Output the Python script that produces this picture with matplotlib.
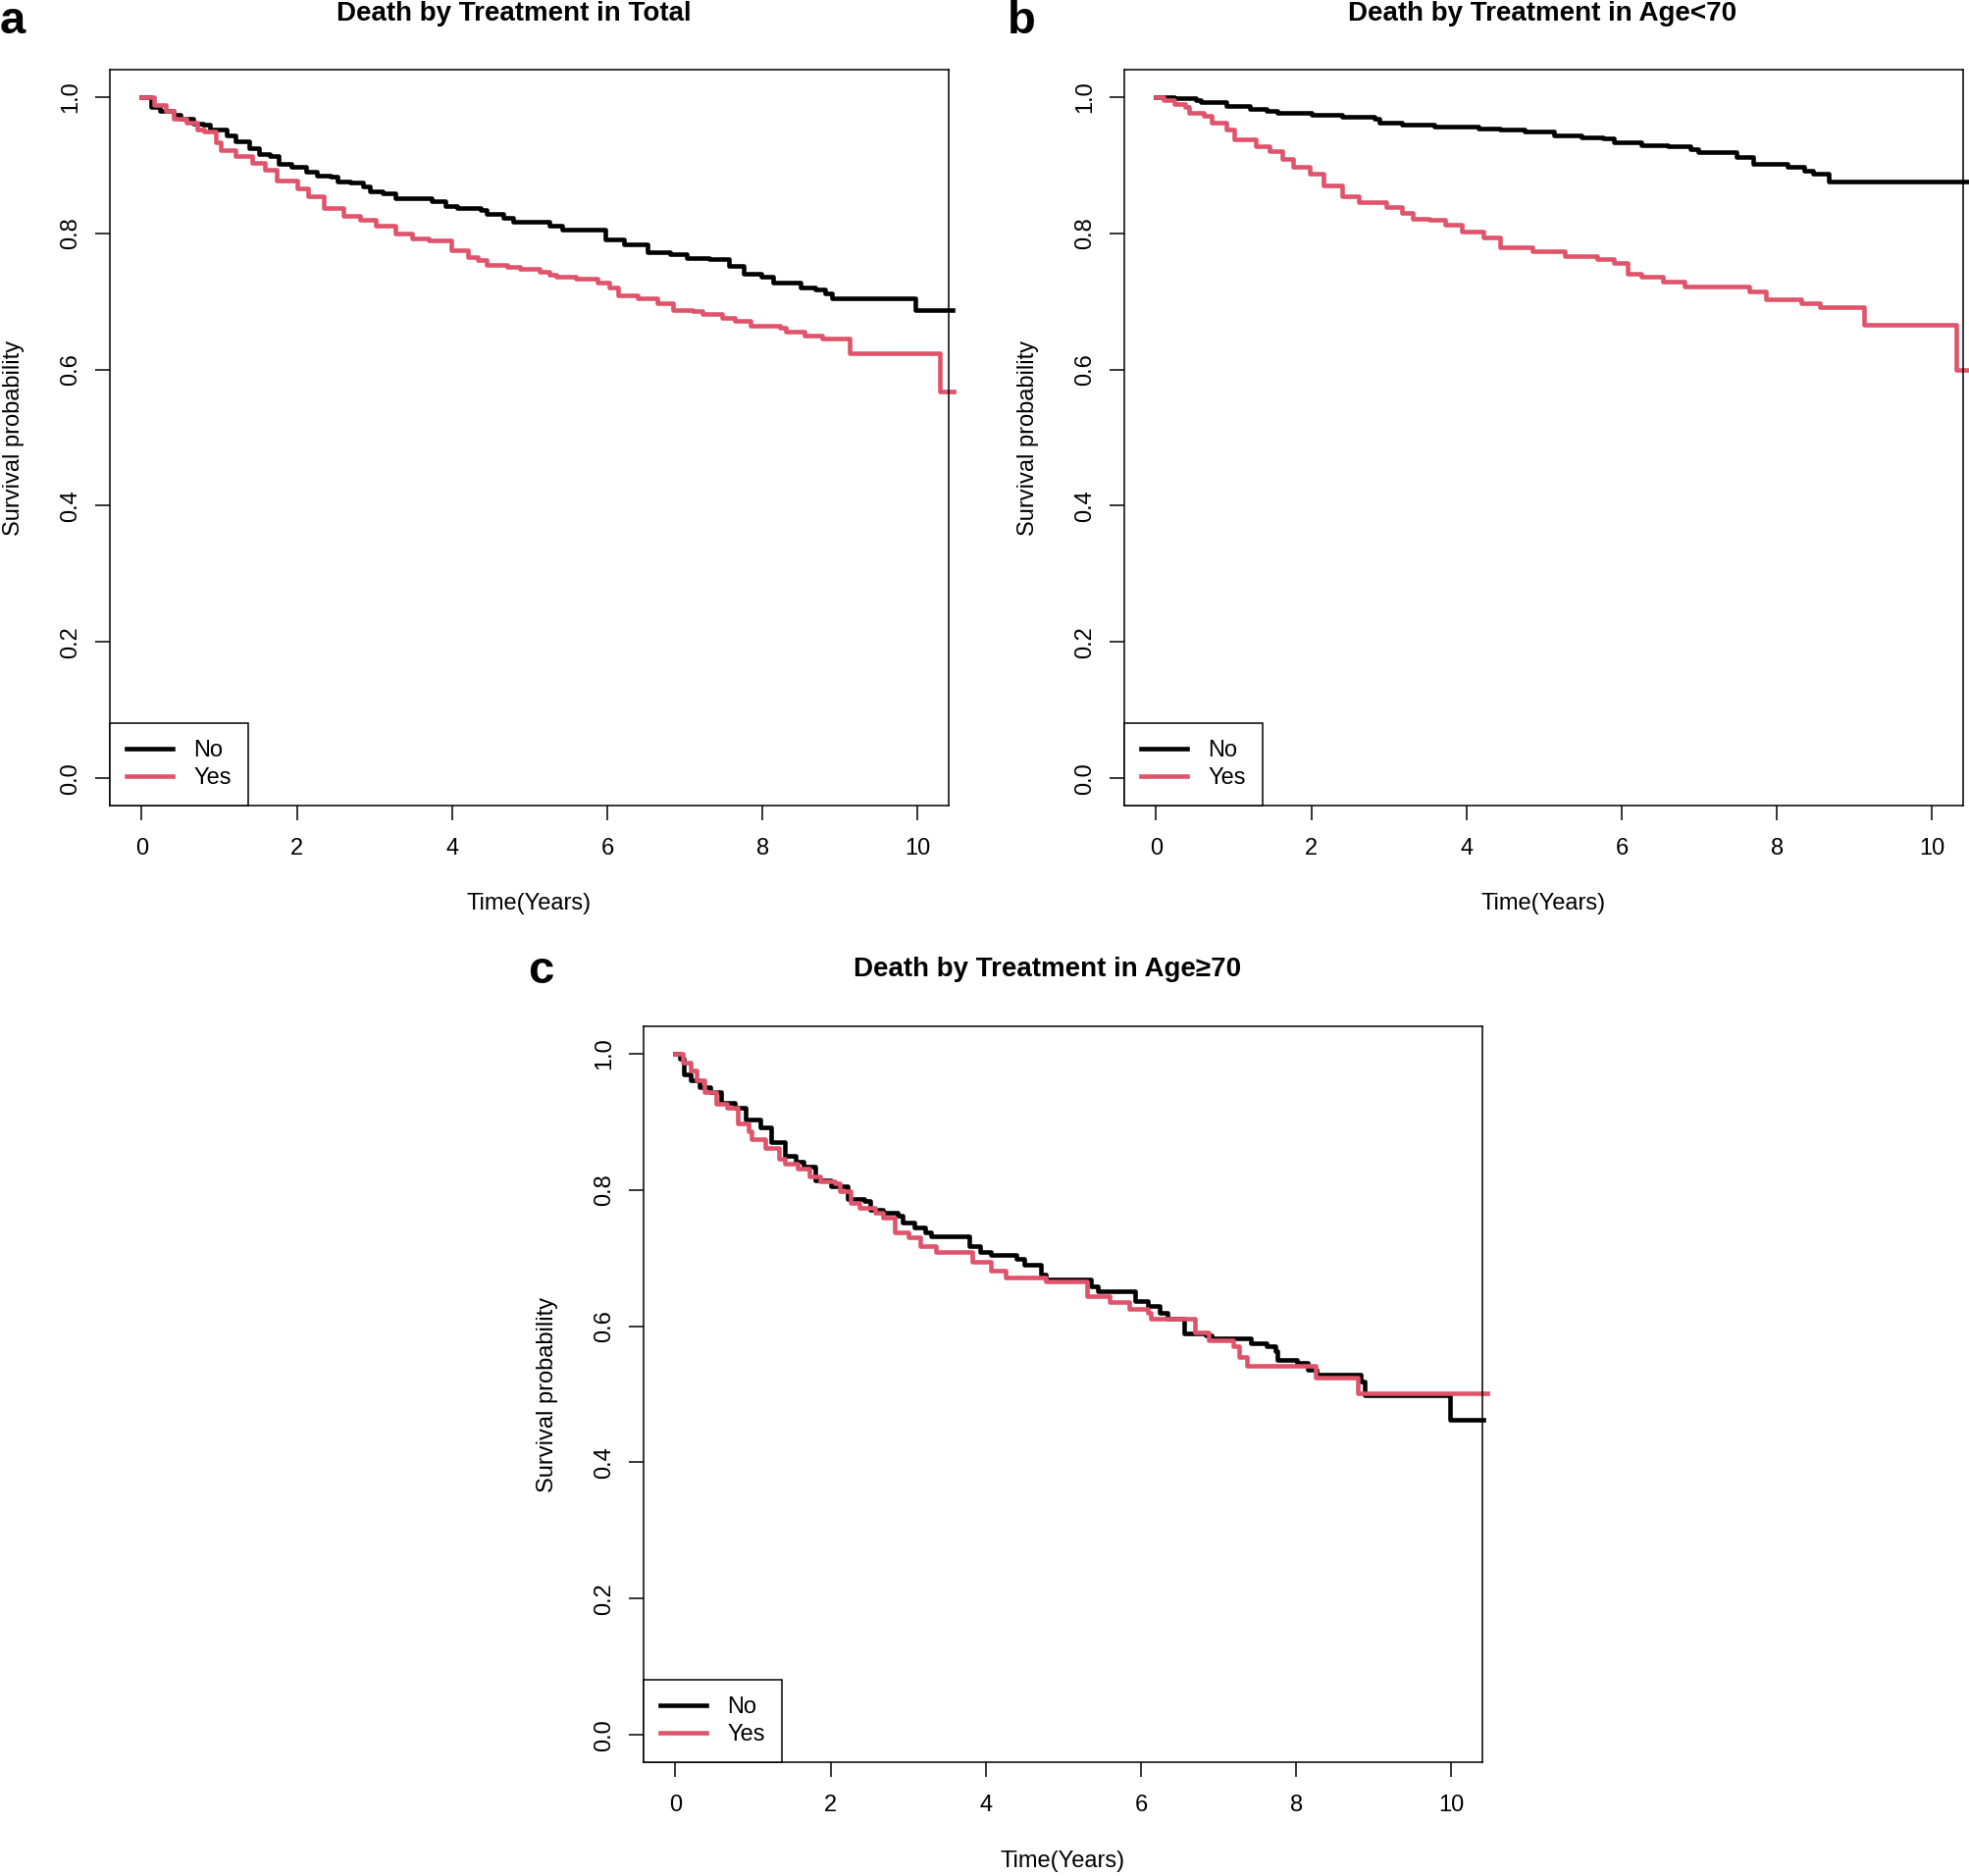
import matplotlib
matplotlib.use("Agg")
from matplotlib import pyplot as plt

plt.rcParams['font.family'] = ['Liberation Sans', 'DejaVu Sans']

BLACK = '#000000'
RED = '#DF536B'

# panel a - total
A_NO_T = [0, 0.12, 0.24, 0.41, 0.50, 0.67, 0.79, 0.88, 1.09, 1.21, 1.38, 1.51, 1.65, 1.76, 1.93,
          2.12, 2.26, 2.43, 2.52, 2.69, 2.85, 2.94, 3.11, 3.27, 3.74, 3.91, 4.07, 4.37, 4.45,
          4.66, 4.79, 5.25, 5.42, 5.97, 6.22, 6.52, 6.81, 7.02, 7.31, 7.57, 7.76, 7.99, 8.14,
          8.37, 8.49, 8.68, 8.81, 8.89, 9.97, 10.45]
A_NO_S = [1.0, 0.986, 0.979, 0.974, 0.968, 0.961, 0.959, 0.952, 0.943, 0.935, 0.925, 0.916, 0.913, 0.902, 0.898,
          0.890, 0.885, 0.883, 0.876, 0.874, 0.868, 0.861, 0.858, 0.852, 0.847, 0.840, 0.837, 0.834, 0.829,
          0.823, 0.817, 0.811, 0.806, 0.791, 0.784, 0.772, 0.770, 0.763, 0.762, 0.752, 0.740, 0.736, 0.728,
          0.727, 0.721, 0.717, 0.712, 0.704, 0.687, 0.687]
A_YES_T = [0, 0.16, 0.31, 0.41, 0.58, 0.71, 0.81, 0.96, 1.02, 1.21, 1.42, 1.59, 1.74, 2.01, 2.14,
           2.35, 2.60, 2.81, 3.02, 3.27, 3.48, 3.70, 3.99, 4.20, 4.33, 4.45, 4.71, 4.87, 5.13,
           5.25, 5.34, 5.59, 5.88, 6.03, 6.14, 6.39, 6.64, 6.85, 7.10, 7.23, 7.48, 7.65, 7.84,
           8.22, 8.30, 8.54, 8.77, 9.12, 10.28, 10.46]
A_YES_S = [1.0, 0.988, 0.979, 0.968, 0.962, 0.952, 0.950, 0.933, 0.922, 0.914, 0.903, 0.893, 0.878, 0.866, 0.854,
           0.837, 0.826, 0.820, 0.811, 0.799, 0.792, 0.789, 0.775, 0.765, 0.760, 0.753, 0.751, 0.747, 0.744,
           0.739, 0.736, 0.733, 0.728, 0.720, 0.709, 0.704, 0.698, 0.687, 0.686, 0.681, 0.675, 0.671, 0.664,
           0.661, 0.656, 0.650, 0.645, 0.624, 0.568, 0.568]

# panel b - age < 70
B_NO_T = [0, 0.23, 0.51, 0.58, 0.83, 0.90, 1.21, 1.42, 1.56, 2.0, 2.40, 2.82, 2.88, 3.17, 3.59,
          4.15, 4.43, 4.75, 5.13, 5.48, 5.76, 5.90, 6.25, 6.60, 6.88, 6.99, 7.48, 7.69, 8.14,
          8.35, 8.46, 8.67, 10.46]
B_NO_S = [1.0, 0.998, 0.995, 0.993, 0.992, 0.987, 0.983, 0.979, 0.977, 0.974, 0.971, 0.968, 0.962, 0.960, 0.956,
          0.954, 0.952, 0.949, 0.943, 0.941, 0.939, 0.933, 0.929, 0.927, 0.923, 0.919, 0.912, 0.902, 0.897,
          0.892, 0.887, 0.876, 0.876]
B_YES_T = [0, 0.09, 0.23, 0.37, 0.43, 0.62, 0.72, 0.90, 1.0, 1.28, 1.46, 1.63, 1.77, 1.98, 2.16,
           2.40, 2.61, 2.96, 3.17, 3.31, 3.52, 3.73, 3.94, 4.22, 4.43, 4.85, 5.27, 5.69, 5.90,
           6.08, 6.25, 6.53, 6.81, 7.65, 7.86, 8.32, 8.56, 9.12, 10.31, 10.46]
B_YES_S = [1.0, 0.995, 0.989, 0.986, 0.977, 0.973, 0.962, 0.952, 0.938, 0.927, 0.921, 0.909, 0.897, 0.887, 0.870,
           0.854, 0.845, 0.839, 0.830, 0.821, 0.819, 0.813, 0.802, 0.794, 0.780, 0.774, 0.766, 0.762, 0.757,
           0.741, 0.736, 0.729, 0.722, 0.714, 0.703, 0.698, 0.691, 0.665, 0.599, 0.599]

# panel c - age >= 70
C_NO_T = [0, 0.06, 0.11, 0.20, 0.31, 0.45, 0.59, 0.77, 0.91, 1.09, 1.23, 1.41, 1.55, 1.65, 1.80,
          2.01, 2.22, 2.44, 2.51, 2.68, 2.86, 2.93, 3.08, 3.22, 3.29, 3.79, 3.93, 4.07, 4.39,
          4.50, 4.71, 4.78, 5.35, 5.45, 5.92, 6.09, 6.24, 6.34, 6.56, 6.84, 6.91, 7.41, 7.62,
          7.73, 7.76, 8.01, 8.15, 8.26, 8.83, 8.88, 9.98, 10.41]
C_NO_S = [1.0, 0.992, 0.970, 0.961, 0.951, 0.944, 0.927, 0.920, 0.903, 0.891, 0.870, 0.850, 0.841, 0.834, 0.814,
          0.805, 0.786, 0.783, 0.771, 0.766, 0.762, 0.752, 0.745, 0.738, 0.732, 0.718, 0.709, 0.704, 0.699,
          0.690, 0.675, 0.669, 0.659, 0.651, 0.637, 0.630, 0.620, 0.611, 0.589, 0.587, 0.582, 0.575, 0.570,
          0.563, 0.551, 0.546, 0.536, 0.529, 0.519, 0.498, 0.463, 0.463]
C_YES_T = [0, 0.09, 0.20, 0.27, 0.38, 0.52, 0.66, 0.80, 0.94, 0.98, 1.16, 1.34, 1.41, 1.58, 1.73,
           1.87, 2.05, 2.12, 2.26, 2.37, 2.58, 2.68, 2.83, 3.00, 3.15, 3.36, 3.82, 4.07, 4.25,
           4.78, 5.31, 5.60, 5.85, 6.09, 6.13, 6.70, 6.87, 7.19, 7.26, 7.37, 8.25, 8.79, 10.46]
C_YES_S = [1.0, 0.987, 0.975, 0.961, 0.944, 0.926, 0.921, 0.898, 0.886, 0.874, 0.862, 0.846, 0.838, 0.831, 0.819,
           0.813, 0.810, 0.798, 0.781, 0.774, 0.766, 0.759, 0.738, 0.730, 0.718, 0.709, 0.694, 0.682, 0.671,
           0.666, 0.644, 0.635, 0.625, 0.620, 0.611, 0.591, 0.579, 0.570, 0.555, 0.542, 0.524, 0.502, 0.502]

GROUPS = ['No', 'Yes']
TITLES = ['Death by Treatment in Total', 'Death by Treatment in Age<70', 'Death by Treatment in Age\u226570']
LETTERS = ['a', 'b', 'c']
X_TICKS = [0, 2, 4, 6, 8, 10]
Y_TICKS = [0.0, 0.2, 0.4, 0.6, 0.8, 1.0]

W, H = 2008, 1912
fig = plt.figure(figsize=(W / 100, H / 100), dpi=100)


def px_axes(left, top, right, bottom):
    return fig.add_axes([left / W, 1 - bottom / H, (right - left) / W, (bottom - top) / H])


def draw_panel(ax, no_t, no_s, yes_t, yes_s):
    ax.step(no_t, no_s, where='post', color=BLACK, lw=3.3, label=GROUPS[0], clip_on=False)
    ax.step(yes_t, yes_s, where='post', color=RED, lw=3.3, label=GROUPS[1], clip_on=False)
    ax.set_xlim(-0.41, 10.4)
    ax.set_ylim(-0.04, 1.04)
    ax.set_xticks(X_TICKS)
    ax.set_xticklabels([str(t) for t in X_TICKS])
    ax.set_yticks(Y_TICKS)
    ax.set_yticklabels([f'{v:.1f}' for v in Y_TICKS], rotation=90, va='center')
    ax.tick_params(direction='out', length=10.6, width=1.1, labelsize=17)
    ax.tick_params(axis='x', pad=13)
    ax.tick_params(axis='y', pad=10)
    for sp in ax.spines.values():
        sp.set_linewidth(1.1)
    ax.set_xlabel('Time(Years)', fontsize=17)
    ax.set_ylabel('Survival probability', fontsize=17)
    ax.xaxis.label.set_va('center')
    ax.yaxis.label.set_va('center')
    ax.xaxis.set_label_coords(0.5, -0.134)
    ax.yaxis.set_label_coords(-0.115, 0.5)
    leg = ax.legend(loc='lower left', borderaxespad=0, fancybox=False, fontsize=17,
                    handlelength=2.0, handletextpad=0.9, borderpad=0.72, labelspacing=0.25,
                    framealpha=1)
    leg.get_frame().set_edgecolor('black')
    leg.get_frame().set_linewidth(1.1)


ax_a = px_axes(112, 71, 967, 821)
draw_panel(ax_a, A_NO_T, A_NO_S, A_YES_T, A_YES_S)
ax_b = px_axes(1146, 71, 2001, 821)
draw_panel(ax_b, B_NO_T, B_NO_S, B_YES_T, B_YES_S)
ax_c = px_axes(656, 1046, 1511, 1796)
draw_panel(ax_c, C_NO_T, C_NO_S, C_YES_T, C_YES_S)

for title, (x, y) in zip(TITLES, [(524, 14), (1572, 14), (1068, 988)]):
    fig.text(x / W, 1 - y / H, title, ha='center', va='center', fontsize=20, fontweight='bold')

for letter, (x, y) in zip(LETTERS, [(13, 22), (1041, 22), (551, 990)]):
    fig.text(x / W, 1 - y / H, letter, ha='center', va='center', fontsize=34, fontweight='bold')

plt.savefig('out.png', dpi=100)
